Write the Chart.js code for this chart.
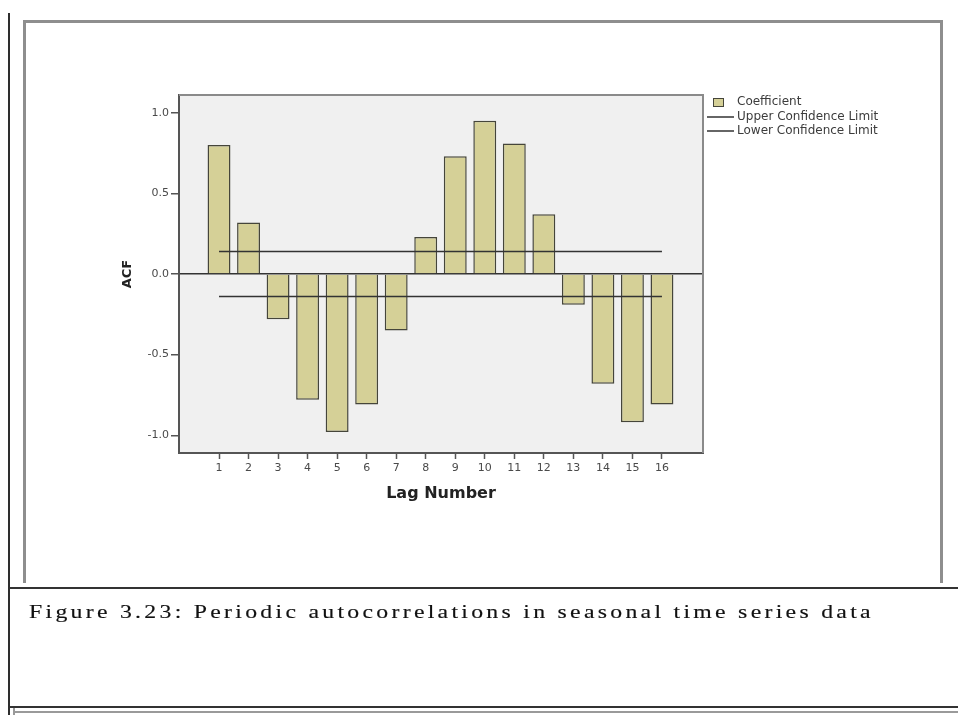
<!DOCTYPE html>
<html>
<head>
<meta charset="utf-8">
<title>ACF - Lag Number</title>
<script src="https://cdn.jsdelivr.net/npm/chart.js@4/dist/chart.umd.min.js"></script>
<style>
  html, body { margin: 0; padding: 0; background: #fff; }
  body { width: 958px; height: 715px; position: relative; overflow: hidden; }
  .rule { position: absolute; }
  #acfChart { position: absolute; left: 0; top: 0; }
  #caption {
    position: absolute; left: 29px; top: 601px;
    font-family: "Liberation Serif", serif; font-size: 19px; line-height: 22px;
    color: #111; white-space: nowrap;
    -webkit-text-stroke: 0.15px #111;
    transform: scaleX(1.25); transform-origin: 0 0;
  }
</style>
</head>
<body>
<!-- page rules around the figure -->
<div class="rule" style="left:8px;top:13px;width:2px;height:702px;background:#2e2e2e"></div>
<div class="rule" style="left:23px;top:20px;width:920px;height:563px;box-sizing:border-box;border:3px solid #8e8e8e;border-bottom:none"></div>
<div class="rule" style="left:10px;top:587px;width:948px;height:2px;background:#333"></div>
<div class="rule" style="left:10px;top:706px;width:948px;height:2px;background:#333"></div>
<div class="rule" style="left:14px;top:711px;width:944px;height:2px;background:#9a9a9a"></div>
<div class="rule" style="left:13px;top:708px;width:2px;height:7px;background:#9a9a9a"></div>

<canvas id="acfChart" width="958" height="715"></canvas>
<div id="caption">Figure 3.23: Periodic autocorrelations in seasonal time series data</div>

<script>
// lags and autocorrelation coefficients
const lags = [1, 2, 3, 4, 5, 6, 7, 8, 9, 10, 11, 12, 13, 14, 15, 16];
const acf = [0.80, 0.32, -0.28, -0.78, -0.98, -0.81, -0.35, 0.23, 0.73, 0.95, 0.81, 0.37, -0.19, -0.68, -0.92, -0.81];
const upperLimit = [0.14, 0.14, 0.14, 0.14, 0.14, 0.14, 0.14, 0.14, 0.14, 0.14, 0.14, 0.14, 0.14, 0.14, 0.14, 0.14];
const lowerLimit = [-0.14, -0.14, -0.14, -0.14, -0.14, -0.14, -0.14, -0.14, -0.14, -0.14, -0.14, -0.14, -0.14, -0.14, -0.14, -0.14];
const yTicks = [-1.0, -0.5, 0.0, 0.5, 1.0];
const legendLabels = ['Coefficient', 'Upper Confidence Limit', 'Lower Confidence Limit'];

const BAR_FILL = '#d5d097';
const BAR_EDGE = '#45453a';
const LIMIT_COLOR = '#333333';
const AXIS_COLOR = '#555555';
const TICK_FONT = { family: 'DejaVu Sans', size: 11 };

// grey plot background + top/right frame
const plotFrame = {
  id: 'plotFrame',
  beforeDraw(chart) {
    const { ctx, chartArea: a } = chart;
    ctx.save();
    ctx.fillStyle = '#f0f0f0';
    ctx.fillRect(a.left, a.top, a.right - a.left, a.bottom - a.top);
    ctx.restore();
  },
  afterDraw(chart) {
    const { ctx, chartArea: a } = chart;
    ctx.save();
    ctx.strokeStyle = '#8a8a8a';
    ctx.lineWidth = 2;
    ctx.beginPath();
    ctx.moveTo(a.left, a.top);
    ctx.lineTo(a.right, a.top);
    ctx.lineTo(a.right, a.bottom);
    ctx.stroke();
    ctx.restore();
  }
};

// SPSS style legend to the right of the plot
const sideLegend = {
  id: 'sideLegend',
  afterDraw(chart) {
    const { ctx, chartArea: a } = chart;
    const x0 = a.right + 4;
    const rows = [a.top + 7, a.top + 22, a.top + 36];
    ctx.save();
    ctx.font = '12px "DejaVu Sans"';
    ctx.textBaseline = 'middle';

    ctx.fillStyle = BAR_FILL;
    ctx.fillRect(x0 + 6, rows[0] - 4, 11, 9);
    ctx.strokeStyle = BAR_EDGE;
    ctx.lineWidth = 1;
    ctx.strokeRect(x0 + 6.5, rows[0] - 3.5, 10, 8);

    ctx.strokeStyle = LIMIT_COLOR;
    ctx.lineWidth = 1.5;
    for (let i = 1; i < 3; i++) {
      ctx.beginPath();
      ctx.moveTo(x0, rows[i]);
      ctx.lineTo(x0 + 27, rows[i]);
      ctx.stroke();
    }

    ctx.fillStyle = '#3c3c3c';
    legendLabels.forEach((t, i) => ctx.fillText(t, x0 + 30, rows[i]));
    ctx.restore();
  }
};

const ctx = document.getElementById('acfChart');

new Chart(ctx, {
  type: 'bar',
  data: {
    datasets: [
      {
        type: 'line',
        label: 'Upper Confidence Limit',
        data: lags.map((x, i) => ({ x: x, y: upperLimit[i] })),
        borderColor: LIMIT_COLOR,
        borderWidth: 1.5,
        pointRadius: 0,
        fill: false,
        order: 1
      },
      {
        type: 'line',
        label: 'Lower Confidence Limit',
        data: lags.map((x, i) => ({ x: x, y: lowerLimit[i] })),
        borderColor: LIMIT_COLOR,
        borderWidth: 1.5,
        pointRadius: 0,
        fill: false,
        order: 1
      },
      {
        label: 'Coefficient',
        data: lags.map((x, i) => ({ x: x, y: acf[i] })),
        backgroundColor: BAR_FILL,
        borderColor: BAR_EDGE,
        borderWidth: 1.5,
        categoryPercentage: 0.8,
        barPercentage: 0.97,
        order: 2
      }
    ]
  },
  options: {
    responsive: false,
    animation: false,
    devicePixelRatio: 1,
    layout: { padding: { left: 116, right: 255, top: 95, bottom: 208 } },
    plugins: {
      legend: { display: false },
      tooltip: { enabled: false }
    },
    scales: {
      x: {
        type: 'linear',
        min: -0.355,
        max: 17.39,
        offset: false,
        afterBuildTicks: s => { s.ticks = lags.map(v => ({ value: v })); },
        afterFit: s => { s.height = 54; },
        grid: {
          offset: false,
          drawOnChartArea: false,
          drawTicks: true,
          tickLength: 6,
          tickColor: AXIS_COLOR,
          tickWidth: 1.5
        },
        border: { color: AXIS_COLOR, width: 2 },
        ticks: { color: '#4a4a4a', font: TICK_FONT, padding: 3, maxRotation: 0, autoSkip: false },
        title: {
          display: true,
          text: 'Lag Number',
          color: '#222',
          font: { family: 'DejaVu Sans', size: 16, weight: 'bold' },
          padding: { top: 4, bottom: 4 }
        }
      },
      y: {
        min: -1.11,
        max: 1.11,
        afterBuildTicks: s => { s.ticks = yTicks.map(v => ({ value: v })); },
        afterFit: s => { s.width = 63; },
        grid: {
          color: c => (c.tick && c.tick.value === 0 ? '#333' : 'rgba(0,0,0,0)'),
          lineWidth: 1.5,
          drawTicks: true,
          tickLength: 8,
          tickColor: AXIS_COLOR,
          tickWidth: 1.5
        },
        border: { color: AXIS_COLOR, width: 2 },
        ticks: { color: '#4a4a4a', font: TICK_FONT, padding: 2, callback: v => v.toFixed(1) },
        title: {
          display: true,
          text: 'ACF',
          color: '#222',
          font: { family: 'DejaVu Sans', size: 13, weight: 'bold' },
          padding: { top: 4, bottom: 4 }
        }
      }
    }
  },
  plugins: [plotFrame, sideLegend]
});

// spread the caption out so it fills the text block (842px wide after scaleX)
const cap = document.getElementById('caption');
const natural = cap.offsetWidth;
const chars = cap.textContent.length;
cap.style.letterSpacing = ((842 / 1.25 - natural) / (chars - 1)).toFixed(2) + 'px';
</script>
</body>
</html>
